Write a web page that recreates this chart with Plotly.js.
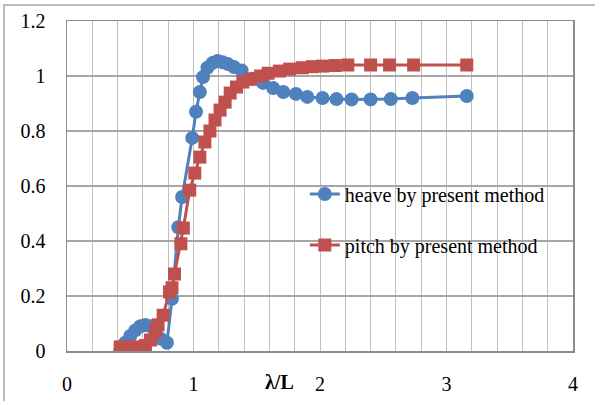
<!DOCTYPE html>
<html>
<head>
<meta charset="utf-8">
<script src="https://cdn.plot.ly/plotly-3.0.1.min.js"></script>
<style>html,body{margin:0;padding:0;background:#fff;}#chart{width:595px;height:401px;}</style>
</head>
<body>
<div id="chart"></div>
<script>
// heave by present method
const heaveX = [0.42,0.46,0.50,0.54,0.58,0.62,0.66,0.70,0.74,0.79,0.83,0.88,0.91,0.99,1.02,1.05,1.075,1.11,1.15,1.19,1.23,1.27,1.32,1.38,1.46,1.55,1.63,1.71,1.81,1.90,2.02,2.13,2.25,2.40,2.56,2.73,3.16];
const heaveY = [0.0,0.03,0.055,0.075,0.09,0.095,0.09,0.07,0.045,0.03,0.19,0.45,0.56,0.775,0.87,0.942,0.996,1.03,1.047,1.055,1.05,1.044,1.033,1.02,0.99,0.975,0.956,0.942,0.935,0.924,0.92,0.916,0.915,0.915,0.916,0.92,0.927];
// pitch by present method
const pitchX = [0.42,0.48,0.53,0.58,0.62,0.66,0.70,0.72,0.76,0.81,0.83,0.85,0.90,0.92,0.97,1.01,1.05,1.09,1.13,1.17,1.21,1.25,1.29,1.34,1.39,1.45,1.53,1.59,1.68,1.76,1.86,1.94,2.02,2.12,2.22,2.40,2.55,2.74,3.16];
const pitchY = [0.015,0.015,0.015,0.01,0.02,0.04,0.07,0.095,0.13,0.215,0.23,0.28,0.39,0.447,0.585,0.647,0.705,0.76,0.80,0.84,0.876,0.905,0.938,0.96,0.978,0.988,1.0,1.01,1.018,1.025,1.03,1.034,1.036,1.038,1.04,1.04,1.04,1.04,1.04];
const seriesNames = ["heave by present method","pitch by present method"];
const xTitle = "<b>λ/L</b>";

const font = "'Liberation Serif', 'Times New Roman', 'DejaVu Serif', serif";
const traces = [
  {x: heaveX, y: heaveY, name: seriesNames[0], legendgroup: "a", mode: "lines+markers", type: "scatter",
   line: {color: "#4F81BD", width: 3}, marker: {symbol: "circle", size: 14, color: "#4F81BD"}},
  {x: pitchX, y: pitchY, name: seriesNames[1], legendgroup: "b", mode: "lines+markers", type: "scatter",
   line: {color: "#C0504D", width: 3}, marker: {symbol: "square", size: 13, color: "#C0504D"}}
];
const layout = {
  width: 595, height: 401,
  margin: {l: 67, r: 22, t: 21, b: 50},
  paper_bgcolor: "#fff", plot_bgcolor: "#fff",
  font: {family: font, size: 20, color: "#000"},
  showlegend: true,
  legend: {x: 0.47, y: 0.535, xanchor: "left", yanchor: "top", bgcolor: "rgba(0,0,0,0)",
           font: {family: font, size: 20, color: "#000"}, tracegroupgap: 22},
  xaxis: {range: [0, 4], dtick: 1, tick0: 0, showgrid: true, gridcolor: "#bfbfbf", gridwidth: 1,
          minor: {dtick: 0.2, showgrid: true, gridcolor: "#bfbfbf", gridwidth: 1},
          zeroline: false, showline: true, linecolor: "#8c8c8c", linewidth: 1.5, mirror: true,
          ticks: "", ticklabelstandoff: 14, tickfont: {family: font, size: 20, color: "#000"}},
  yaxis: {range: [0, 1.2], dtick: 0.2, tick0: 0, showgrid: true, gridcolor: "#a6a6a6", gridwidth: 1.5,
          zeroline: false, showline: true, linecolor: "#8c8c8c", linewidth: 1.5, mirror: true,
          ticks: "", ticklabelstandoff: 16, tickfont: {family: font, size: 20, color: "#000"}},
  annotations: [{text: xTitle, xref: "x", yref: "paper", x: 1.68, y: -0.095, yanchor: "middle",
                 xanchor: "center", showarrow: false, font: {family: font, size: 20, color: "#000"}}],
  shapes: [{type: "rect", xref: "paper", yref: "paper", x0: -0.1245, x1: 1.2, y0: -0.3, y1: 1.0485,
            line: {color: "#a6a6a6", width: 1.5}, fillcolor: "rgba(0,0,0,0)", layer: "below"}]
};
Plotly.newPlot("chart", traces, layout, {displayModeBar: false, staticPlot: true});
</script>
</body>
</html>
